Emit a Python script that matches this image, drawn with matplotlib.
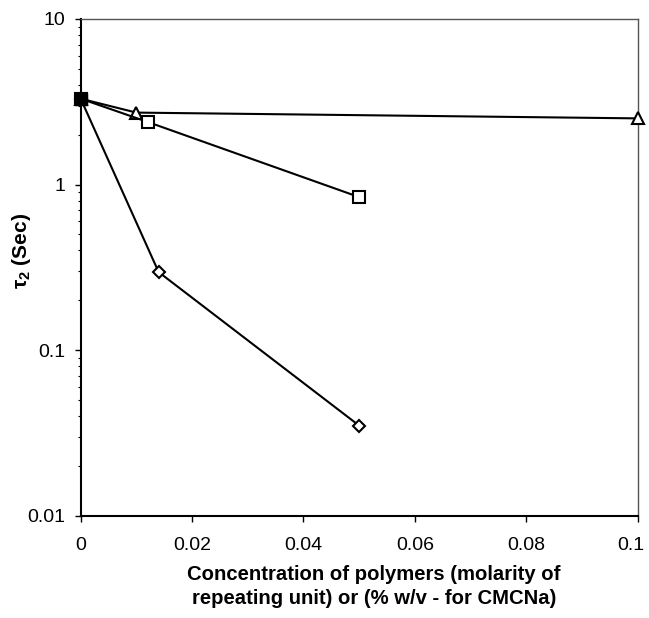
import matplotlib
matplotlib.use("Agg")
import matplotlib.pyplot as plt
import matplotlib.transforms as mtransforms
from matplotlib.ticker import FixedLocator, FuncFormatter, LogLocator, NullFormatter

plt.rcParams['font.family'] = ['Liberation Sans', 'DejaVu Sans']

# series (x = concentration, y = tau2 in sec)
tri_x = [0, 0.010, 0.10]
tri_y = [3.3, 2.72, 2.51]
sq_x = [0, 0.012, 0.050]
sq_y = [3.3, 2.39, 0.84]
dia_x = [0, 0.014, 0.050]
dia_y = [3.3, 0.296, 0.035]

xticks = [0, 0.02, 0.04, 0.06, 0.08, 0.1]
yticks = [0.01, 0.1, 1, 10]

fig = plt.figure(figsize=(6.49, 6.18), dpi=100)
ax = fig.add_axes([0.1243, 0.1655, 0.8583, 0.8038])

lw = 1.5
ax.plot(tri_x, tri_y, color='black', lw=lw, marker='^', ms=8,
        mfc='white', mec='black', mew=1.5, clip_on=False, zorder=3)
ax.plot(sq_x, sq_y, color='black', lw=lw, marker='s', ms=8,
        mfc='white', mec='black', mew=1.5, clip_on=False, zorder=3)
ax.plot(dia_x, dia_y, color='black', lw=lw, marker='D', ms=6.5,
        mfc='white', mec='black', mew=1.5, clip_on=False, zorder=3)
# shared starting point shows as a solid block
ax.plot(sq_x[:1], sq_y[:1], ls='none', marker='s', ms=8, color='black',
        clip_on=False, zorder=4)

ax.set_yscale('log')
ax.set_xlim(0, 0.1)
ax.set_ylim(0.01, 10)

ax.xaxis.set_major_locator(FixedLocator(xticks))
ax.xaxis.set_major_formatter(FuncFormatter(lambda v, p: '%g' % v))
ax.yaxis.set_major_locator(FixedLocator(yticks))
ax.yaxis.set_major_formatter(FuncFormatter(lambda v, p: '%g' % v))
ax.yaxis.set_minor_locator(LogLocator(base=10, subs=range(2, 10)))
ax.yaxis.set_minor_formatter(NullFormatter())

ax.tick_params(axis='both', which='major', direction='out', length=4,
               width=1, labelsize=14)
ax.tick_params(axis='y', which='minor', direction='out', length=2.5, width=0.8)
ax.tick_params(axis='y', which='major', pad=7)
ax.tick_params(axis='x', which='major', pad=11)

# last x label sits right at the figure edge, nudge it in a bit
fig.canvas.draw()
last = ax.get_xticklabels()[-1]
last.set_transform(last.get_transform() +
                   mtransforms.ScaledTranslation(-5 / 72, 0, fig.dpi_scale_trans))

for side in ['left', 'bottom']:
    ax.spines[side].set_linewidth(1.5)
    ax.spines[side].set_color('black')
for side in ['top', 'right']:
    ax.spines[side].set_linewidth(1.0)
    ax.spines[side].set_color('#555555')

ax.set_xlabel('Concentration of polymers (molarity of\nrepeating unit) or (% w/v - for CMCNa)',
              fontsize=14.6, fontweight='bold', linespacing=1.35)
ax.xaxis.set_label_coords(0.527, -0.099)
ax.set_ylabel(r'$\mathregular{\tau_2}$ (Sec)', fontsize=15, fontweight='bold')
ax.yaxis.set_label_coords(-0.086, 0.533)

fig.savefig('out.png', dpi=100)
